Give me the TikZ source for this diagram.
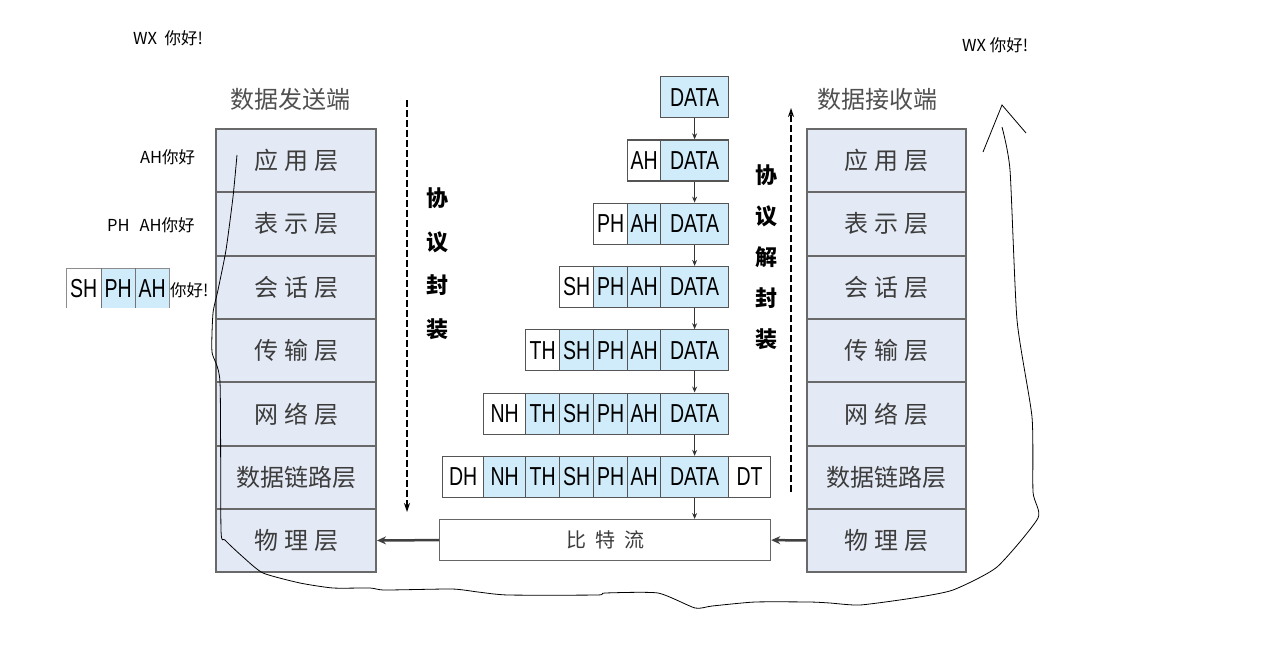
\documentclass[tikz,border=0pt]{standalone}
\usepackage{fontspec}
\setmainfont{Liberation Sans}
\newfontfamily\cjk{Noto Sans CJK SC}
\usetikzlibrary{arrows.meta}
\definecolor{cellblue}{RGB}{208,235,249}
\definecolor{cellborder}{RGB}{85,85,85}
\definecolor{layerfill}{RGB}{228,234,245}
\definecolor{layerborder}{RGB}{105,105,105}
\definecolor{layertext}{RGB}{60,60,60}
\newcommand\cl[1]{\scalebox{0.75}[1]{#1}}
\newcommand\lsp{\hspace{6pt}}
\tikzset{
  cell/.style={draw=cellborder, line width=1.2pt, minimum height=41pt, inner sep=0pt, anchor=north west, font=\fontsize{26}{26}\selectfont},
  bcell/.style={cell, fill=cellblue},
  wcell/.style={cell, fill=white},
  layer/.style={draw=layerborder, fill=layerfill, line width=2pt, minimum height=63.3pt, inner sep=0pt, anchor=north west, text=layertext, font=\cjk\fontsize{24}{24}\selectfont},
  title/.style={text=layertext!90, font=\cjk\fontsize{24}{24}\selectfont},
  vtext/.style={align=center, font=\cjk\bfseries\fontsize{22}{43.5}\selectfont},
  flow/.style={-{Stealth[length=6pt,width=5pt]}, line width=1.3pt, draw=black!80},
  thickflow/.style={-{Stealth[length=9pt,width=8pt]}, line width=2.5pt, draw=black!75},
  dasharrow/.style={dashed, dash pattern=on 7pt off 3pt, -{Stealth[length=9pt,width=6pt]}, line width=1.4pt},
  hand/.style={font=\cjk\fontsize{16.5}{16.5}\selectfont, anchor=west, inner sep=0pt},
  pen/.style={line width=0.8pt, black}
}
\begin{document}
\begin{tikzpicture}[x=1pt,y=-1pt]
\useasboundingbox (0,0) rectangle (1273,651);
% titles
\node[title] (tl) at (290,99) {数据发送端};
\node[title] (tr) at (877,99) {数据接收端};
% left stack
\node[layer, minimum width=160pt] (L1) at (215,128) {应\lsp 用\lsp 层};
\node[layer, minimum width=160pt] (L2) at (215,191.3) {表\lsp 示\lsp 层};
\node[layer, minimum width=160pt] (L3) at (215,254.6) {会\lsp 话\lsp 层};
\node[layer, minimum width=160pt] (L4) at (215,317.9) {传\lsp 输\lsp 层};
\node[layer, minimum width=160pt] (L5) at (215,381.2) {网\lsp 络\lsp 层};
\node[layer, minimum width=160pt] (L6) at (215,444.5) {数据链路层};
\node[layer, minimum width=160pt] (L7) at (215,507.8) {物\lsp 理\lsp 层};
% right stack
\node[layer, minimum width=159pt] (R1) at (806,128) {应\lsp 用\lsp 层};
\node[layer, minimum width=159pt] (R2) at (806,191.3) {表\lsp 示\lsp 层};
\node[layer, minimum width=159pt] (R3) at (806,254.6) {会\lsp 话\lsp 层};
\node[layer, minimum width=159pt] (R4) at (806,317.9) {传\lsp 输\lsp 层};
\node[layer, minimum width=159pt] (R5) at (806,381.2) {网\lsp 络\lsp 层};
\node[layer, minimum width=159pt] (R6) at (806,444.5) {数据链路层};
\node[layer, minimum width=159pt] (R7) at (806,507.8) {物\lsp 理\lsp 层};
% row 1
\node[bcell, minimum width=68pt] (d1) at (660,76) {\cl{DATA}};
% row 2
\node[wcell, minimum width=33pt] (a2) at (627,139.3) {\cl{AH}};
\node[bcell, minimum width=68pt] (d2) at (660,139.3) {\cl{DATA}};
% row 3
\node[wcell, minimum width=34pt] (p3) at (593,202.6) {\cl{PH}};
\node[bcell, minimum width=33pt] (a3) at (627,202.6) {\cl{AH}};
\node[bcell, minimum width=68pt] (d3) at (660,202.6) {\cl{DATA}};
% row 4
\node[wcell, minimum width=34pt] (s4) at (559,265.9) {\cl{SH}};
\node[bcell, minimum width=34pt] (p4) at (593,265.9) {\cl{PH}};
\node[bcell, minimum width=33pt] (a4) at (627,265.9) {\cl{AH}};
\node[bcell, minimum width=68pt] (d4) at (660,265.9) {\cl{DATA}};
% row 5
\node[wcell, minimum width=34pt] (t5) at (525,329.2) {\cl{TH}};
\node[bcell, minimum width=34pt] (s5) at (559,329.2) {\cl{SH}};
\node[bcell, minimum width=34pt] (p5) at (593,329.2) {\cl{PH}};
\node[bcell, minimum width=33pt] (a5) at (627,329.2) {\cl{AH}};
\node[bcell, minimum width=68pt] (d5) at (660,329.2) {\cl{DATA}};
% row 6
\node[wcell, minimum width=42pt] (n6) at (483,392.5) {\cl{NH}};
\node[bcell, minimum width=34pt] (t6) at (525,392.5) {\cl{TH}};
\node[bcell, minimum width=34pt] (s6) at (559,392.5) {\cl{SH}};
\node[bcell, minimum width=34pt] (p6) at (593,392.5) {\cl{PH}};
\node[bcell, minimum width=33pt] (a6) at (627,392.5) {\cl{AH}};
\node[bcell, minimum width=68pt] (d6) at (660,392.5) {\cl{DATA}};
% row 7
\node[wcell, minimum width=41pt] (h7) at (442,455.8) {\cl{DH}};
\node[bcell, minimum width=42pt] (n7) at (483,455.8) {\cl{NH}};
\node[bcell, minimum width=34pt] (t7) at (525,455.8) {\cl{TH}};
\node[bcell, minimum width=34pt] (s7) at (559,455.8) {\cl{SH}};
\node[bcell, minimum width=34pt] (p7) at (593,455.8) {\cl{PH}};
\node[bcell, minimum width=33pt] (a7) at (627,455.8) {\cl{AH}};
\node[bcell, minimum width=68pt] (d7) at (660,455.8) {\cl{DATA}};
\node[wcell, minimum width=42pt] (e7) at (728,455.8) {\cl{DT}};
% bitstream
\node[draw=black!60, fill=white, line width=1.2pt, minimum width=331pt, minimum height=41pt, inner sep=0pt, anchor=north west, text=layertext, font=\cjk\fontsize{20}{20}\selectfont] (bits) at (439,519) {比\hspace{9pt}特\hspace{9pt}流};
% arrows between rows
\draw[flow] (d1.south) -- (d2.north);
\draw[flow] (d2.south) -- (d3.north);
\draw[flow] (d3.south) -- (d4.north);
\draw[flow] (d4.south) -- (d5.north);
\draw[flow] (d5.south) -- (d6.north);
\draw[flow] (d6.south) -- (d7.north);
\draw[flow] (d7.south) -- (bits.north -| d7.south);
% bitstream arrows
\draw[thickflow] (bits.west) -- (L7.east);
\draw[thickflow] (R7.west) -- (bits.east);
% dashed arrows
\coordinate (dla) at (407,100);
\coordinate (dlb) at (407,512);
\draw[dasharrow, line width=1.8pt] (dla) -- (dlb);
\coordinate (dra) at (791,492);
\coordinate (drb) at (791,108);
\draw[dasharrow] (dra) -- (drb);
% vertical texts
\node[vtext] (encap) at (437,263.5) {协\\议\\封\\装};
\node[vtext, font=\cjk\bfseries\fontsize{22}{41}\selectfont] (decap) at (766,257.5) {协\\议\\解\\封\\装};
% handwritten labels
\node[hand] (wx1) at (133,38) {WX\ \ 你好!};
\node[hand] (wx2) at (962,45) {WX 你好!};
\node[hand] (ah0) at (140,157) {AH你好};
\node[hand] (pah0) at (107,225) {PH\hspace{10pt}AH你好};
% small SH PH AH box
\node[fill=white, minimum width=35pt, minimum height=40pt, inner sep=0pt, anchor=north west, font=\fontsize{26}{26}\selectfont] (sh0) at (66,268) {\cl{SH}};
\node[fill=cellblue, minimum width=34pt, minimum height=40pt, inner sep=0pt, anchor=north west, font=\fontsize{26}{26}\selectfont] (ph0) at (101,268) {\cl{PH}};
\node[fill=cellblue, minimum width=34pt, minimum height=40pt, inner sep=0pt, anchor=north west, font=\fontsize{26}{26}\selectfont] (ahb0) at (135,268) {\cl{AH}};
\draw[black!45, line width=1pt] (sh0.south west) -- (sh0.north west) -- (ahb0.north east) -- (ahb0.south east);
\draw[black!55, line width=1pt] (ph0.north west) -- (ph0.south west);
\draw[black!55, line width=1pt] (ahb0.north west) -- (ahb0.south west);
\node[hand] (nh0) at (170,290) {你好!};
% hand-drawn curve
\draw[pen] plot[smooth, tension=0.35] coordinates {(237,155) (233,197) (226,250) (218,290) (213,313) (212,352) (220,382) (221,530) (225,540) (243,557) (263,573) (300,583) (333,588) (370,588) (385,590) (452,589) (478,592) (508,595) (597,595) (605,593) (658,593) (695,608) (712,606) (755,602) (810,602) (830,603) (860,605) (913,598) (953,590) (997,567) (1038,518) (1033,492) (1032,417) (1017,320) (1010,170) (1002,127)};
\draw[pen] (983,152) -- (1002,105) -- (1026,133);
\end{tikzpicture}
\end{document}
